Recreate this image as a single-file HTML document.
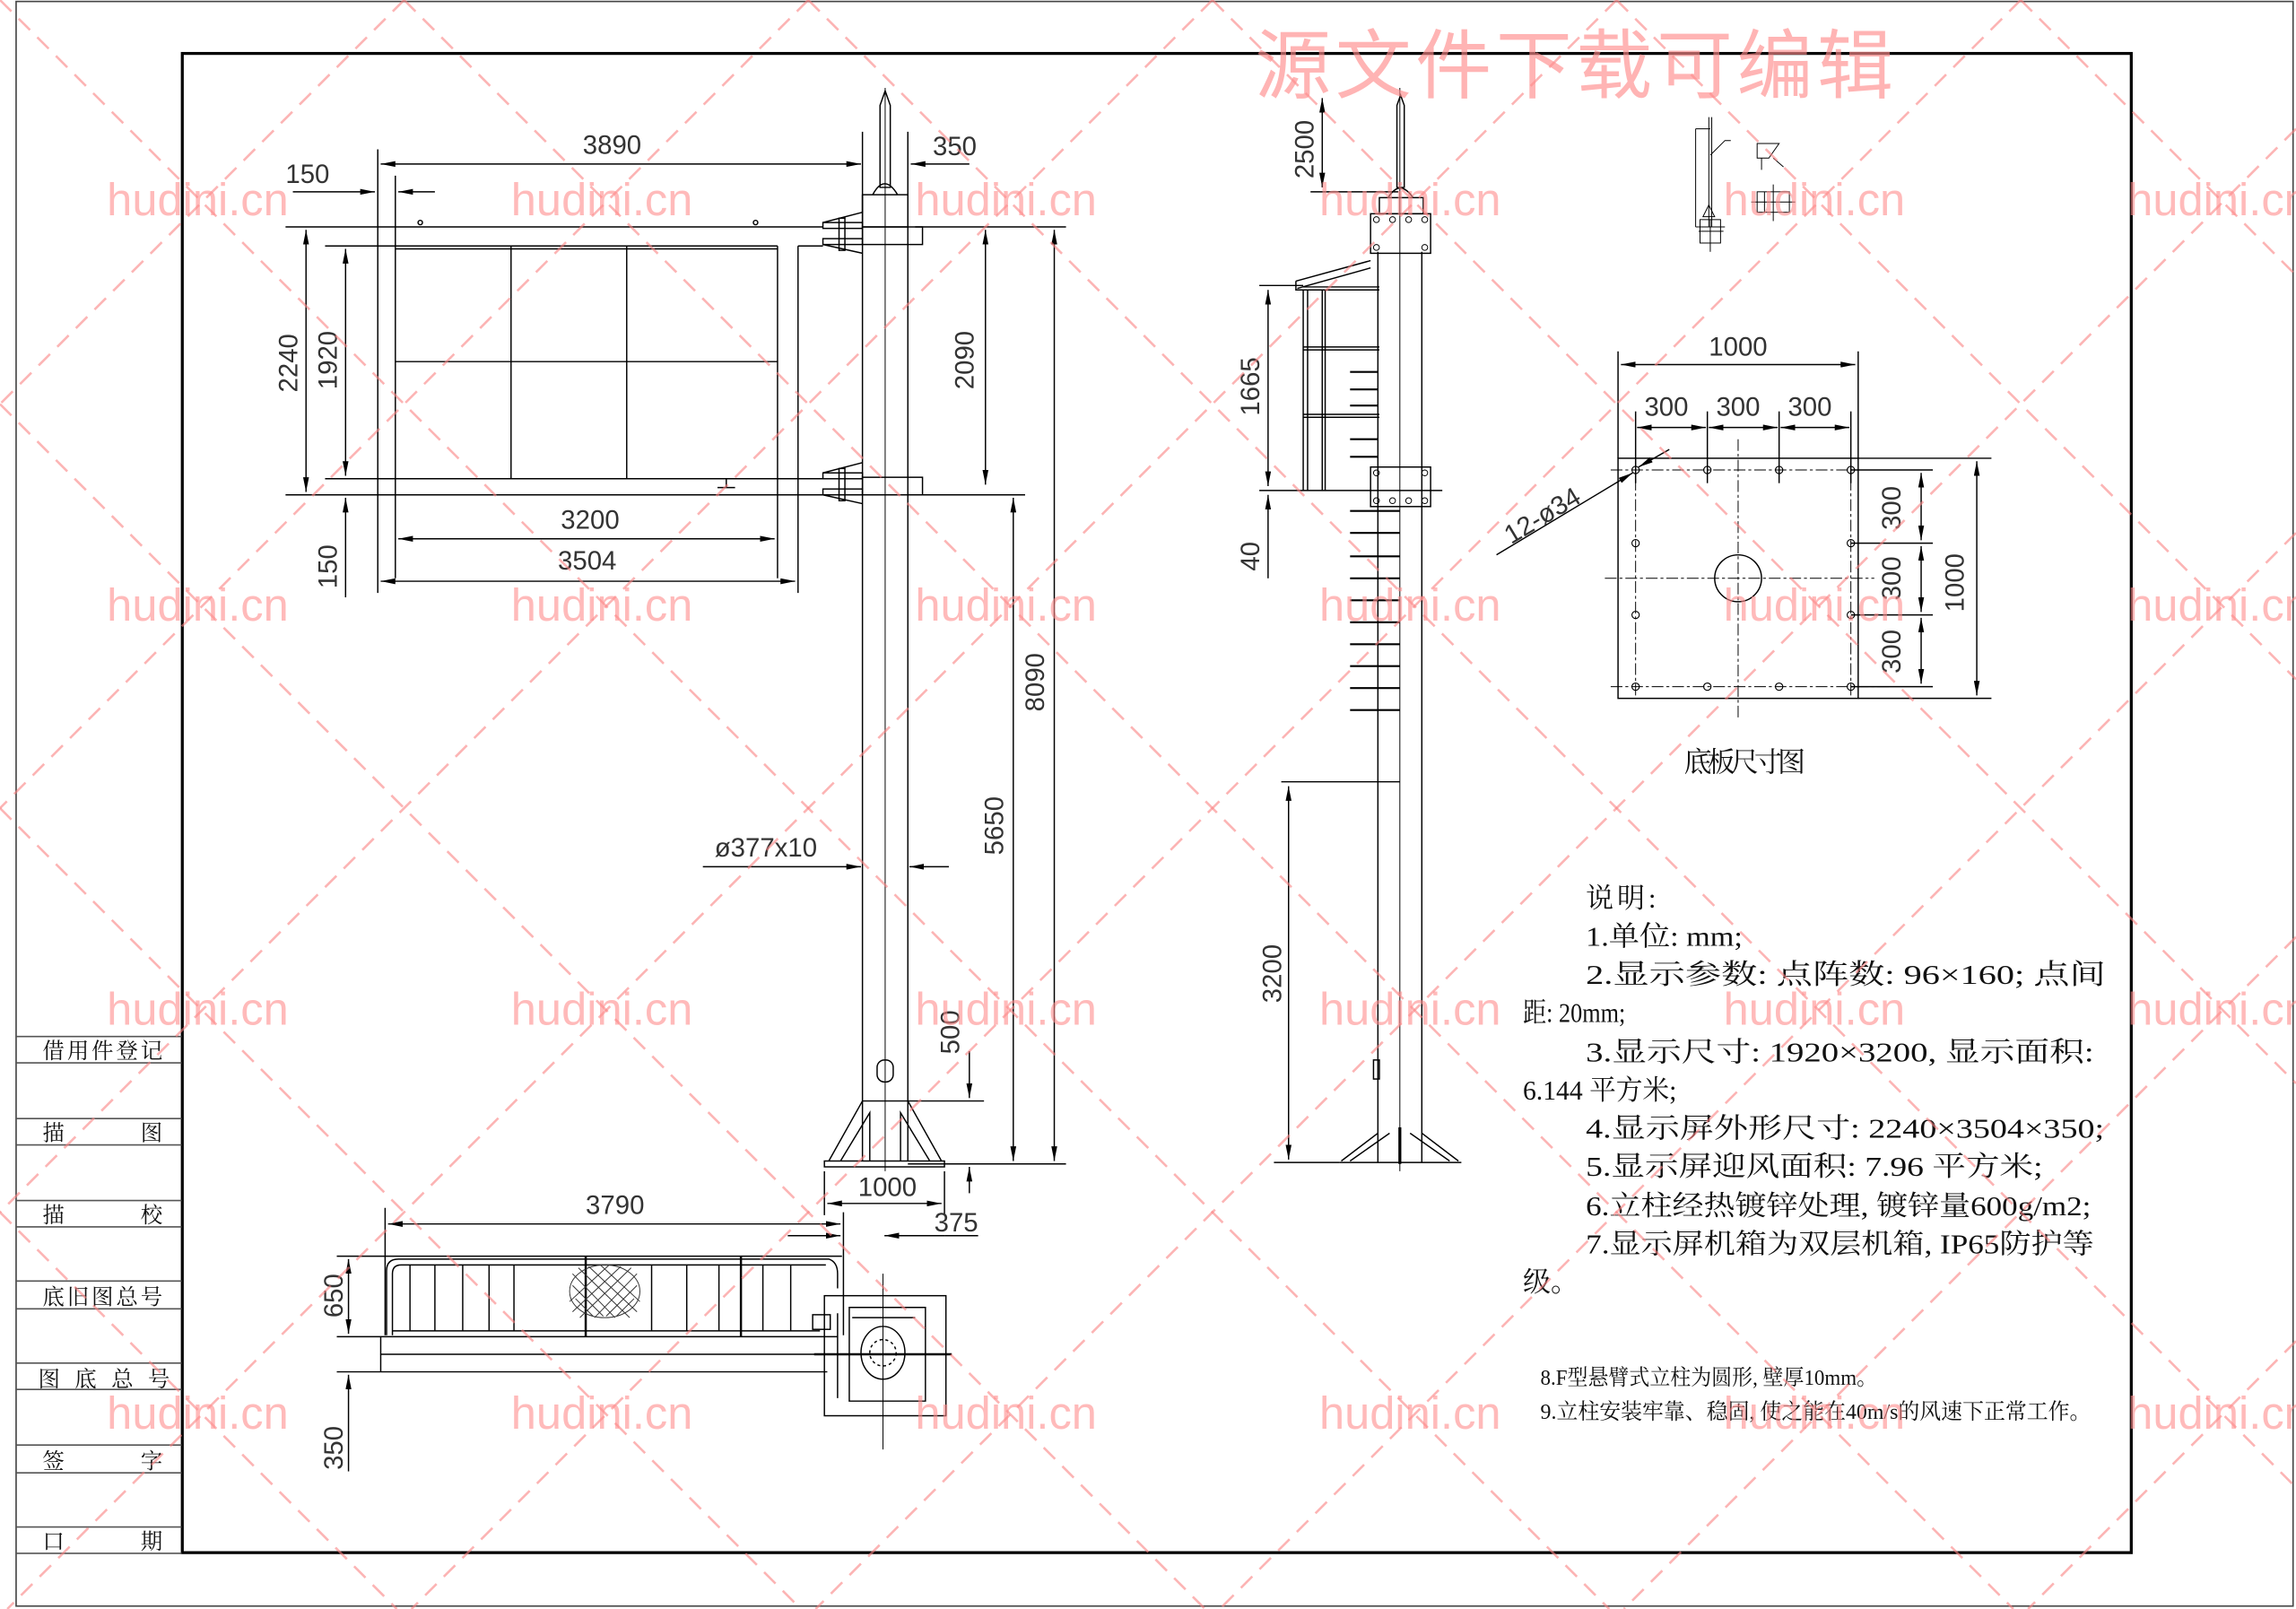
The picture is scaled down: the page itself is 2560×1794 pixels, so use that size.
<!DOCTYPE html>
<html><head><meta charset="utf-8"><style>
html,body{margin:0;padding:0;background:#fff;}
svg{display:block;}
.d{font-family:"Liberation Sans Narrow","Liberation Sans",sans-serif;font-size:18px;fill:#333;}
.cn{font-family:"Liberation Serif","Noto Serif CJK SC",serif;font-size:19px;fill:#111;}
.wm{font-family:"Liberation Sans","Noto Sans CJK SC",sans-serif;font-size:31px;fill:rgba(255,140,140,0.6);}
</style></head><body>
<svg width="2560" height="1794" viewBox="0 0 1568 1099" preserveAspectRatio="none" xmlns="http://www.w3.org/2000/svg">
<defs>
<marker id="a" viewBox="0 0 10 4" refX="10" refY="2" markerWidth="10" markerHeight="4" orient="auto-start-reverse" markerUnits="userSpaceOnUse"><path d="M0,0 L10,2 L0,4z" fill="#000"/></marker>
</defs>
<rect width="1568" height="1099" fill="#fff"/>
<rect x="11" y="1" width="1555" height="1096" fill="none" stroke="#444" stroke-width="1"/>
<rect x="124.5" y="36.5" width="1331" height="1024" fill="none" stroke="#000" stroke-width="2"/>
<g stroke="#555" stroke-width="1">
<line x1="11" y1="708" x2="124" y2="708"/><line x1="11" y1="726" x2="124" y2="726"/>
<line x1="11" y1="764" x2="124" y2="764"/><line x1="11" y1="782" x2="124" y2="782"/>
<line x1="11" y1="820" x2="124" y2="820"/><line x1="11" y1="838" x2="124" y2="838"/>
<line x1="11" y1="875" x2="124" y2="875"/><line x1="11" y1="894" x2="124" y2="894"/>
<line x1="11" y1="931" x2="124" y2="931"/><line x1="11" y1="949" x2="124" y2="949"/>
<line x1="11" y1="987" x2="124" y2="987"/><line x1="11" y1="1006" x2="124" y2="1006"/>
<line x1="11" y1="1043" x2="124" y2="1043"/><line x1="11" y1="1061" x2="124" y2="1061"/>
</g>
<g class="cn" style="font-size:15px">
<text x="29" y="723" textLength="82">借用件登记</text>
<text x="29" y="779">描</text><text x="96" y="779">图</text>
<text x="29" y="835">描</text><text x="96" y="835">校</text>
<text x="29" y="891" textLength="82">底旧图总号</text>
<text x="26" y="947" textLength="90">图 底 总 号</text>
<text x="29" y="1003">签</text><text x="96" y="1003">字</text>
<text x="29" y="1058">口</text><text x="96" y="1058">期</text>
</g>

<g fill="none" stroke="#000" stroke-width="0.9">
<line x1="589" y1="133" x2="589" y2="793"/><line x1="620" y1="133" x2="620" y2="793"/>
<line x1="604.5" y1="60" x2="604.5" y2="800" stroke-width="0.6"/>
<rect x="589" y="133" width="31" height="22"/>
<path d="M601,72 L604.5,62 L608,72 L608,128 L601,128z"/>
<path d="M596,133 Q604,118 613,133"/>
<g>
<rect x="562" y="152" width="27" height="4"/><rect x="562" y="163" width="27" height="4"/>
<rect x="573" y="149" width="4" height="22"/><rect x="589" y="155" width="41" height="12"/>
<path d="M562,152 L589,145 M562,167 L589,173"/>
<rect x="562" y="323" width="27" height="4"/><rect x="562" y="334" width="27" height="4"/>
<rect x="573" y="320" width="4" height="22"/><rect x="589" y="326" width="41" height="12"/>
<path d="M562,323 L589,316 M562,338 L589,344"/>
</g>
<rect x="599" y="724" width="11" height="15" rx="5"/>
<line x1="589" y1="752" x2="620" y2="752"/>
<rect x="563" y="793" width="82" height="4"/>
<path d="M566,793 L589,752 M574,793 L594,760 L594,793 M643,793 L620,752 M635,793 L615,760 L615,793"/>
<line x1="258" y1="102" x2="258" y2="405"/><line x1="270" y1="120" x2="270" y2="395"/>
<line x1="531" y1="168" x2="531" y2="395"/><line x1="545" y1="168" x2="545" y2="405"/>
<line x1="195" y1="155" x2="562" y2="155"/>
<line x1="222" y1="168" x2="531" y2="168"/><line x1="270" y1="170" x2="531" y2="170"/>
<line x1="545" y1="168" x2="562" y2="168"/>
<line x1="349" y1="168" x2="349" y2="327"/><line x1="428" y1="168" x2="428" y2="327"/>
<line x1="270" y1="247" x2="531" y2="247"/>
<line x1="222" y1="327" x2="562" y2="327"/>
<line x1="195" y1="338" x2="700" y2="338"/>
<line x1="490" y1="333" x2="502" y2="333"/><line x1="496" y1="327" x2="496" y2="333"/>
<circle cx="287" cy="152" r="1.5"/><circle cx="516" cy="152" r="1.5"/>
<line x1="260" y1="112" x2="588" y2="112" marker-start="url(#a)" marker-end="url(#a)"/>
<line x1="589" y1="90" x2="589" y2="145"/><line x1="620" y1="90" x2="620" y2="145"/>
<line x1="622" y1="112" x2="662" y2="112" marker-start="url(#a)"/>
<line x1="200" y1="131" x2="256" y2="131" marker-end="url(#a)"/>
<line x1="272" y1="131" x2="297" y2="131" marker-start="url(#a)"/>
<line x1="209" y1="157" x2="209" y2="336" marker-start="url(#a)" marker-end="url(#a)"/>
<line x1="236" y1="170" x2="236" y2="325" marker-start="url(#a)" marker-end="url(#a)"/>
<line x1="236" y1="340" x2="236" y2="408" marker-start="url(#a)"/>
<line x1="272" y1="368" x2="529" y2="368" marker-start="url(#a)" marker-end="url(#a)"/>
<line x1="260" y1="397" x2="543" y2="397" marker-start="url(#a)" marker-end="url(#a)"/>
<line x1="625" y1="155" x2="728" y2="155"/>
<line x1="620" y1="338" x2="700" y2="338"/>
<line x1="620" y1="795" x2="728" y2="795"/>
<line x1="673" y1="157" x2="673" y2="331" marker-start="url(#a)" marker-end="url(#a)"/>
<line x1="720" y1="157" x2="720" y2="793" marker-start="url(#a)" marker-end="url(#a)"/>
<line x1="692" y1="340" x2="692" y2="793" marker-start="url(#a)" marker-end="url(#a)"/>
<line x1="620" y1="752" x2="672" y2="752"/>
<line x1="662" y1="718" x2="662" y2="750" marker-end="url(#a)"/>
<line x1="662" y1="797" x2="662" y2="815" marker-start="url(#a)"/>
<line x1="480" y1="592" x2="588" y2="592" marker-end="url(#a)"/>
<line x1="621" y1="592" x2="648" y2="592" marker-start="url(#a)"/>
<line x1="563" y1="800" x2="563" y2="830"/><line x1="645" y1="800" x2="645" y2="830"/>
<line x1="565" y1="822" x2="643" y2="822" marker-start="url(#a)" marker-end="url(#a)"/>
<line x1="538" y1="844" x2="574" y2="844" marker-end="url(#a)"/>
<line x1="604" y1="844" x2="645" y2="844" marker-start="url(#a)"/>
<line x1="645" y1="844" x2="668" y2="844"/>

<line x1="263" y1="825" x2="263" y2="912"/>
<line x1="265" y1="836" x2="574" y2="836" marker-start="url(#a)" marker-end="url(#a)"/>
<line x1="576" y1="828" x2="576" y2="912"/>
<line x1="230" y1="858" x2="575" y2="858"/>
<path d="M264,912 L264,868 Q264,860 272,860 L566,860 Q572,862 572,870 L572,880"/>
<path d="M268,912 L268,870 Q268,864 274,864 L564,864"/>
<line x1="268" y1="909" x2="560" y2="909"/>
<line x1="230" y1="913" x2="572" y2="913"/>
<line x1="280" y1="864" x2="280" y2="909"/><line x1="297" y1="864" x2="297" y2="909"/>
<line x1="316" y1="864" x2="316" y2="909"/><line x1="334" y1="864" x2="334" y2="909"/>
<line x1="351" y1="864" x2="351" y2="909"/><line x1="400" y1="858" x2="400" y2="913" stroke-width="1.5"/>
<line x1="445" y1="864" x2="445" y2="909"/><line x1="469" y1="864" x2="469" y2="909"/>
<line x1="491" y1="864" x2="491" y2="909"/><line x1="506" y1="858" x2="506" y2="913" stroke-width="1.5"/>
<line x1="521" y1="864" x2="521" y2="909"/><line x1="540" y1="864" x2="540" y2="909"/>
<line x1="230" y1="937" x2="565" y2="937"/><line x1="260" y1="913" x2="260" y2="937"/>
<line x1="260" y1="925" x2="565" y2="925"/>
<line x1="238" y1="860" x2="238" y2="911" marker-start="url(#a)" marker-end="url(#a)"/>
<line x1="238" y1="939" x2="238" y2="1005" marker-start="url(#a)"/>
<rect x="563" y="885" width="83" height="82"/>
<line x1="603" y1="870" x2="603" y2="990" stroke-width="0.6"/>
<line x1="556" y1="925" x2="650" y2="925" stroke-width="1.5"/>
<ellipse cx="603" cy="924" rx="15" ry="18"/><circle cx="603" cy="924" r="9" stroke-dasharray="2 2"/>
<path d="M572,897 L572,955 M580,893 L632,893 L632,957 L580,957z M582,900 L625,900"/>
<rect x="555" y="898" width="12" height="10"/>
</g>
<ellipse cx="413" cy="882" rx="24" ry="18" fill="none" stroke="#333" stroke-width="0.6"/>
<g stroke="#333" stroke-width="0.6">
<path d="M391,870 L420,900 M395,866 L430,900 M402,865 L435,896 M410,864 L437,889 M391,878 L412,899 M393,887 L405,899"/>
<path d="M435,870 L406,900 M431,866 L396,900 M424,865 L391,896 M416,864 L389,889 M435,878 L414,899 M433,887 L421,899"/>
</g>

<g fill="none" stroke="#000" stroke-width="0.9">
<line x1="941" y1="172" x2="941" y2="794"/><line x1="971" y1="172" x2="971" y2="794"/>
<line x1="956" y1="60" x2="956" y2="800" stroke-width="0.6"/>
<path d="M954,72 L956.5,65 L959,72 L959,128 L954,128z"/>
<path d="M948,135 Q956,122 965,135"/>
<rect x="942" y="135" width="30" height="11"/>
<rect x="936" y="146" width="41" height="27"/>
<rect x="936" y="319" width="41" height="27"/>
<g stroke-width="0.6">
<circle cx="940" cy="150" r="2"/><circle cx="973" cy="150" r="2"/><circle cx="940" cy="169" r="2"/><circle cx="973" cy="169" r="2"/>
<circle cx="940" cy="323" r="2"/><circle cx="973" cy="323" r="2"/><circle cx="940" cy="342" r="2"/><circle cx="973" cy="342" r="2"/>
<circle cx="951" cy="342" r="2"/><circle cx="962" cy="342" r="2"/><circle cx="951" cy="150" r="2"/><circle cx="962" cy="150" r="2"/>
</g>
<path d="M885,192 L885,198 L890,198 L890,335 M893,198 L893,335 M885,192 L936,178 M886,197 L936,183"/>
<line x1="890" y1="196" x2="942" y2="196"/><line x1="890" y1="198" x2="942" y2="198"/>
<line x1="890" y1="237" x2="942" y2="237"/><line x1="890" y1="239" x2="942" y2="239"/>
<line x1="890" y1="283" x2="942" y2="283"/><line x1="890" y1="285" x2="942" y2="285"/>
<line x1="903" y1="198" x2="903" y2="335"/><line x1="905" y1="198" x2="905" y2="335"/>
<line x1="860" y1="335" x2="985" y2="335"/>
<line x1="860" y1="195" x2="890" y2="195"/>
<g stroke-width="1.3">
<line x1="922" y1="254" x2="941" y2="254"/><line x1="922" y1="266" x2="941" y2="266"/><line x1="922" y1="277" x2="941" y2="277"/>
<line x1="922" y1="300" x2="941" y2="300"/><line x1="922" y1="312" x2="941" y2="312"/>
<line x1="922" y1="349" x2="956" y2="349"/><line x1="922" y1="364" x2="956" y2="364"/><line x1="922" y1="380" x2="956" y2="380"/>
<line x1="922" y1="395" x2="956" y2="395"/><line x1="922" y1="410" x2="956" y2="410"/><line x1="922" y1="425" x2="956" y2="425"/>
<line x1="922" y1="440" x2="956" y2="440"/><line x1="922" y1="455" x2="956" y2="455"/><line x1="922" y1="470" x2="956" y2="470"/>
<line x1="922" y1="485" x2="956" y2="485"/>
</g>
<line x1="875" y1="534" x2="956" y2="534"/>
<rect x="938" y="724" width="4" height="13"/>
<line x1="915" y1="794" x2="998" y2="794"/>
<path d="M916,793 L941,774 M922,793 L949,774 M996,793 L971,774 M990,793 L963,774"/>
<line x1="956" y1="770" x2="956" y2="795" stroke-width="2"/>
<line x1="903" y1="67" x2="903" y2="128" marker-start="url(#a)" marker-end="url(#a)"/>
<line x1="895" y1="131" x2="955" y2="131"/>
<line x1="866" y1="198" x2="866" y2="332" marker-start="url(#a)" marker-end="url(#a)"/>
<line x1="866" y1="338" x2="866" y2="395" marker-start="url(#a)"/>
<line x1="880" y1="537" x2="880" y2="792" marker-start="url(#a)" marker-end="url(#a)"/>
<line x1="870" y1="794" x2="915" y2="794"/>

<g stroke-width="0.6">
<line x1="1167" y1="80" x2="1167" y2="155"/><line x1="1169" y1="80" x2="1169" y2="155"/>
<line x1="1158" y1="88" x2="1158" y2="155"/><line x1="1158" y1="88" x2="1168" y2="88"/>
<path d="M1163,148 L1167,140 L1171,148 L1163,148z M1158,155 L1178,155 M1168,106 L1178,96 L1182,96"/>
<rect x="1161" y="150" width="14" height="16"/><line x1="1168" y1="150" x2="1168" y2="172"/>
<line x1="1160" y1="158" x2="1177" y2="158"/>
<path d="M1200,98 L1215,98 L1208,108 L1200,108z M1203,108 L1203,116 M1211,108 L1218,114"/>
<rect x="1200" y="131" width="22" height="14"/><line x1="1211" y1="126" x2="1211" y2="151"/>
<line x1="1196" y1="138" x2="1226" y2="138"/><line x1="1205" y1="131" x2="1205" y2="145"/>
</g>

<rect x="1105" y="313" width="164" height="164"/>
<line x1="1105" y1="240" x2="1105" y2="313"/><line x1="1269" y1="240" x2="1269" y2="313"/>
<line x1="1107" y1="249" x2="1267" y2="249" marker-start="url(#a)" marker-end="url(#a)"/>
<line x1="1117" y1="281" x2="1117" y2="330"/><line x1="1166" y1="281" x2="1166" y2="330"/>
<line x1="1215" y1="281" x2="1215" y2="330"/><line x1="1264" y1="281" x2="1264" y2="330"/>
<line x1="1118" y1="292" x2="1165" y2="292" marker-start="url(#a)" marker-end="url(#a)"/>
<line x1="1167" y1="292" x2="1214" y2="292" marker-start="url(#a)" marker-end="url(#a)"/>
<line x1="1216" y1="292" x2="1263" y2="292" marker-start="url(#a)" marker-end="url(#a)"/>
<line x1="1269" y1="313" x2="1360" y2="313"/><line x1="1269" y1="477" x2="1360" y2="477"/>
<line x1="1350" y1="315" x2="1350" y2="475" marker-start="url(#a)" marker-end="url(#a)"/>
<line x1="1264" y1="371" x2="1320" y2="371"/><line x1="1264" y1="420" x2="1320" y2="420"/>
<line x1="1264" y1="321" x2="1320" y2="321"/><line x1="1264" y1="469" x2="1320" y2="469"/>
<line x1="1312" y1="323" x2="1312" y2="369" marker-start="url(#a)" marker-end="url(#a)"/>
<line x1="1312" y1="373" x2="1312" y2="418" marker-start="url(#a)" marker-end="url(#a)"/>
<line x1="1312" y1="422" x2="1312" y2="467" marker-start="url(#a)" marker-end="url(#a)"/>
<line x1="1022" y1="379" x2="1115" y2="323" marker-end="url(#a)"/>
<line x1="1140" y1="307" x2="1119" y2="319" marker-end="url(#a)"/>
<circle cx="1187" cy="395" r="16"/>
<g stroke-width="0.6" stroke-dasharray="8 2 2 2">
<line x1="1100" y1="321" x2="1290" y2="321"/><line x1="1100" y1="469" x2="1290" y2="469"/>
<line x1="1117" y1="313" x2="1117" y2="477"/><line x1="1264" y1="313" x2="1264" y2="477"/>
<line x1="1096" y1="395" x2="1280" y2="395"/><line x1="1187" y1="300" x2="1187" y2="490"/>
</g>
<g stroke-width="0.7">
<circle cx="1117" cy="321" r="2.5"/><circle cx="1166" cy="321" r="2.5"/><circle cx="1215" cy="321" r="2.5"/><circle cx="1264" cy="321" r="2.5"/>
<circle cx="1117" cy="469" r="2.5"/><circle cx="1166" cy="469" r="2.5"/><circle cx="1215" cy="469" r="2.5"/><circle cx="1264" cy="469" r="2.5"/>
<circle cx="1117" cy="371" r="2.5"/><circle cx="1264" cy="371" r="2.5"/><circle cx="1117" cy="420" r="2.5"/><circle cx="1264" cy="420" r="2.5"/>
</g>
</g>

<g class="d">
<text x="398" y="105">3890</text>
<text x="637" y="106">350</text>
<text x="195" y="125">150</text>
<text x="383" y="361">3200</text>
<text x="381" y="389">3504</text>
<text x="488" y="585">ø377x10</text>
<text x="586" y="817">1000</text>
<text x="638" y="841">375</text>
<text x="400" y="829">3790</text>
<text x="1167" y="243">1000</text>
<text x="1123" y="284">300</text><text x="1172" y="284">300</text><text x="1221" y="284">300</text>
<g transform="translate(203,268) rotate(-90)"><text>2240</text></g>
<g transform="translate(230,266) rotate(-90)"><text>1920</text></g>
<g transform="translate(230,402) rotate(-90)"><text>150</text></g>
<g transform="translate(665,266) rotate(-90)"><text>2090</text></g>
<g transform="translate(713,486) rotate(-90)"><text>8090</text></g>
<g transform="translate(685,584) rotate(-90)"><text>5650</text></g>
<g transform="translate(655,720) rotate(-90)"><text>500</text></g>
<g transform="translate(234,900) rotate(-90)"><text>650</text></g>
<g transform="translate(234,1004) rotate(-90)"><text>350</text></g>
<g transform="translate(897,122) rotate(-90)"><text>2500</text></g>
<g transform="translate(860,284) rotate(-90)"><text>1665</text></g>
<g transform="translate(860,390) rotate(-90)"><text>40</text></g>
<g transform="translate(875,685) rotate(-90)"><text>3200</text></g>
<g transform="translate(1298,362) rotate(-90)"><text>300</text></g>
<g transform="translate(1298,410) rotate(-90)"><text>300</text></g>
<g transform="translate(1298,460) rotate(-90)"><text>300</text></g>
<g transform="translate(1341,418) rotate(-90)"><text>1000</text></g>
<g transform="translate(1032,372) rotate(-31)"><text>12-ø34</text></g>
</g>

<g class="cn">
<text x="1150" y="527" textLength="83">底板尺寸图</text>
<text x="1083" y="620" textLength="48">说明:</text>
<text x="1083" y="646" textLength="107" lengthAdjust="spacingAndGlyphs">1.单位: mm;</text>
<text x="1083" y="672" textLength="355" lengthAdjust="spacingAndGlyphs">2.显示参数: 点阵数:  96×160;   点间</text>
<text x="1040" y="698" textLength="70" lengthAdjust="spacingAndGlyphs">距:  20mm;</text>
<text x="1083" y="725" textLength="347" lengthAdjust="spacingAndGlyphs">3.显示尺寸:  1920×3200, 显示面积:</text>
<text x="1040" y="751" textLength="105" lengthAdjust="spacingAndGlyphs">6.144 平方米;</text>
<text x="1083" y="777" textLength="354" lengthAdjust="spacingAndGlyphs">4.显示屏外形尺寸:  2240×3504×350;</text>
<text x="1083" y="803" textLength="312" lengthAdjust="spacingAndGlyphs">5.显示屏迎风面积:  7.96 平方米;</text>
<text x="1083" y="830" textLength="345" lengthAdjust="spacingAndGlyphs">6.立柱经热镀锌处理, 镀锌量600g/m2;</text>
<text x="1083" y="856" textLength="347" lengthAdjust="spacingAndGlyphs">7.显示屏机箱为双层机箱, IP65防护等</text>
<text x="1040" y="882">级。</text>
<text x="1052" y="946" style="font-size:15px" textLength="230" lengthAdjust="spacingAndGlyphs">8.F型悬臂式立柱为圆形, 壁厚10mm。</text>
<text x="1052" y="969" style="font-size:15px" textLength="376" lengthAdjust="spacingAndGlyphs">9.立柱安装牢靠、稳固, 使之能在40m/s的风速下正常工作。</text>
</g>

<g stroke="rgba(250,130,130,0.6)" stroke-width="1.6" stroke-dasharray="11 7">
<line x1="0" y1="0" x2="1099" y2="1099"/>
<line x1="276" y1="0" x2="1375" y2="1099"/>
<line x1="552" y1="0" x2="1568" y2="1016"/>
<line x1="828" y1="0" x2="1568" y2="740"/>
<line x1="1104" y1="0" x2="1568" y2="464"/>
<line x1="1380" y1="0" x2="1568" y2="188"/>
<line x1="0" y1="276" x2="823" y2="1099"/>
<line x1="0" y1="552" x2="547" y2="1099"/>
<line x1="0" y1="828" x2="271" y2="1099"/>
<line x1="276" y1="0" x2="0" y2="276"/>
<line x1="552" y1="0" x2="0" y2="552"/>
<line x1="828" y1="0" x2="0" y2="828"/>
<line x1="1104" y1="0" x2="5" y2="1099"/>
<line x1="1380" y1="0" x2="281" y2="1099"/>
<line x1="1568" y1="88" x2="557" y2="1099"/>
<line x1="1568" y1="364" x2="833" y2="1099"/>
<line x1="1568" y1="640" x2="1109" y2="1099"/>
<line x1="1568" y1="916" x2="1385" y2="1099"/>
</g>
<g class="wm">
<text x="73" y="147">hudini.cn</text><text x="349" y="147">hudini.cn</text><text x="625" y="147">hudini.cn</text><text x="901" y="147">hudini.cn</text><text x="1177" y="147">hudini.cn</text><text x="1453" y="147">hudini.cn</text>
<text x="73" y="424">hudini.cn</text><text x="349" y="424">hudini.cn</text><text x="625" y="424">hudini.cn</text><text x="901" y="424">hudini.cn</text><text x="1177" y="424">hudini.cn</text><text x="1453" y="424">hudini.cn</text>
<text x="73" y="700">hudini.cn</text><text x="349" y="700">hudini.cn</text><text x="625" y="700">hudini.cn</text><text x="901" y="700">hudini.cn</text><text x="1177" y="700">hudini.cn</text><text x="1453" y="700">hudini.cn</text>
<text x="73" y="976">hudini.cn</text><text x="349" y="976">hudini.cn</text><text x="625" y="976">hudini.cn</text><text x="901" y="976">hudini.cn</text><text x="1177" y="976">hudini.cn</text><text x="1453" y="976">hudini.cn</text>
</g>
<text x="857" y="63" style="font-family:'Liberation Sans','Noto Sans CJK SC',sans-serif;font-size:52px;fill:rgba(255,140,140,0.65)" textLength="436">源文件下载可编辑</text>
</svg>
</body></html>
